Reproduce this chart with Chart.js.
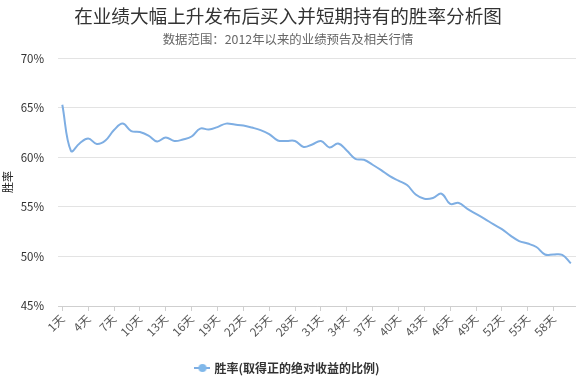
<!DOCTYPE html>
<html>
<head>
<meta charset="utf-8">
<script src="https://cdn.jsdelivr.net/npm/chart.js@4/dist/chart.umd.min.js"></script>
<style>
html,body{margin:0;padding:0;background:#fff;}
#wrap{width:576px;height:381px;}
</style>
</head>
<body>
<div id="wrap"><canvas id="c" width="576" height="381"></canvas></div>
<script>
const titleText = '在业绩大幅上升发布后买入并短期持有的胜率分析图';
const subtitleText = '数据范围：2012年以来的业绩预告及相关行情';
const seriesName = '胜率(取得正的绝对收益的比例)';
const yTitle = '胜率';
const dayCount = 60;
const categories = Array.from({length: dayCount}, (_, i) => (i + 1) + '天');
const winRate = [
  65.3, 60.65, 61.4, 61.9, 61.35, 61.7, 62.75, 63.4, 62.65, 62.55,
  62.2, 61.6, 62.0, 61.65, 61.8, 62.1, 62.9, 62.8, 63.05, 63.4,
  63.3, 63.2, 63.0, 62.75, 62.35, 61.7, 61.65, 61.65, 61.05, 61.3,
  61.65, 61.0, 61.4, 60.7, 59.85, 59.75, 59.25, 58.7, 58.1, 57.65,
  57.2, 56.25, 55.83, 55.9, 56.33, 55.3, 55.4, 54.8, 54.3, 53.8,
  53.25, 52.75, 52.1, 51.55, 51.3, 50.95, 50.2, 50.2, 50.15, 49.3
];
const yTicks = [45, 50, 55, 60, 65, 70];
const xTickEvery = 3;

const FONT = '"Noto Sans CJK SC", "Noto Sans", sans-serif';
const lineColor = '#7eaee3';

// legend marker: line with a dot
const mk = document.createElement('canvas');
mk.width = 16; mk.height = 10;
const mctx = mk.getContext('2d');
mctx.strokeStyle = lineColor; mctx.lineWidth = 2;
mctx.beginPath(); mctx.moveTo(0, 5); mctx.lineTo(16, 5); mctx.stroke();
mctx.fillStyle = '#80b8ea';
mctx.beginPath(); mctx.arc(8, 5, 4, 0, Math.PI * 2); mctx.fill();

const points = winRate.map((v, i) => ({x: i, y: v}));

const legendShift = {
  id: 'legendShift',
  afterLayout(chart) {
    if (chart.legend) { chart.legend.top += 3; chart.legend.bottom += 3; }
  }
};

new Chart(document.getElementById('c'), {
  type: 'line',
  data: {
    datasets: [{
      label: seriesName,
      data: points,
      borderColor: lineColor,
      backgroundColor: lineColor,
      borderWidth: 2,
      pointRadius: 0,
      tension: 0.4,
      fill: false
    }]
  },
  plugins: [legendShift],
  options: {
    responsive: false,
    animation: false,
    devicePixelRatio: 1,
    layout: {padding: {left: 0, right: 0, top: 0, bottom: 0}},
    plugins: {
      title: {
        display: true, text: titleText, color: '#333',
        font: {family: FONT, size: 18.6, weight: 'normal'},
        padding: {top: 5, bottom: 5}
      },
      subtitle: {
        display: true, text: subtitleText, color: '#666',
        font: {family: FONT, size: 12.4, weight: 'normal'},
        padding: {top: 0, bottom: 11}
      },
      legend: {
        position: 'bottom',
        labels: {
          usePointStyle: true,
          pointStyle: mk,
          color: '#333',
          font: {family: FONT, size: 12, weight: 'bold'},
          padding: 10
        }
      },
      tooltip: {enabled: false}
    },
    scales: {
      x: {
        type: 'linear',
        min: -0.5,
        max: 59.6,
        afterBuildTicks: (s) => {
          const t = [];
          for (let i = 0; i < categories.length; i += xTickEvery) t.push({value: i});
          s.ticks = t;
        },
        afterFit: (s) => { s.height = 43; },
        grid: {drawOnChartArea: false, drawTicks: true, tickLength: 5, color: '#cfcfcf'},
        border: {display: true, color: '#cfcfcf'},
        ticks: {
          autoSkip: false,
          minRotation: 45, maxRotation: 45,
          color: '#555',
          font: {family: FONT, size: 11.5},
          padding: 1,
          callback: (v) => categories[v] !== undefined ? categories[v] : ''
        }
      },
      y: {
        min: 45, max: 70,
        afterBuildTicks: (s) => { s.ticks = yTicks.map(v => ({value: v})); },
        afterFit: (s) => { s.width = 58; },
        grid: {drawTicks: false, color: '#e3e3e3'},
        border: {display: false},
        title: {
          display: true, text: yTitle, color: '#222',
          font: {family: FONT, size: 11},
          padding: {top: 1, bottom: 0}
        },
        ticks: {
          color: '#333',
          font: {family: FONT, size: 11.5},
          padding: 14,
          callback: (v) => v + '%'
        }
      }
    }
  }
});
</script>
</body>
</html>
